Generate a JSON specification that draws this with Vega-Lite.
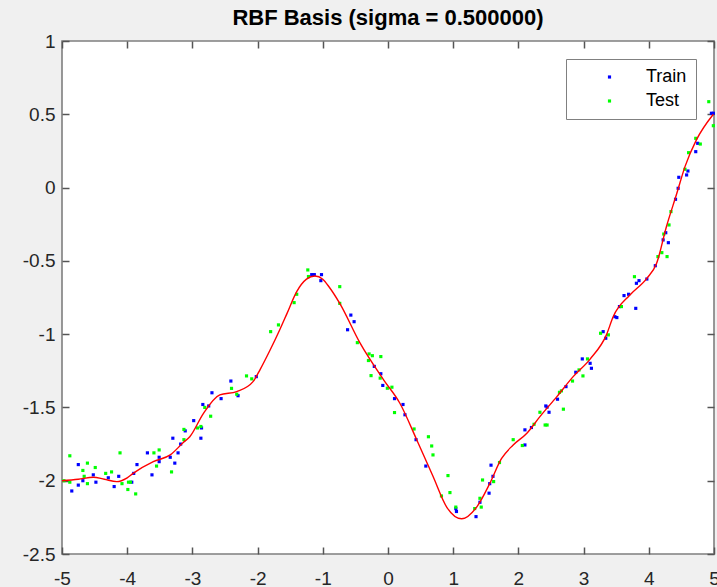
{
  "$schema": "https://vega.github.io/schema/vega-lite/v6.json",
  "width": 652,
  "height": 513,
  "autosize": {"type": "none"},
  "padding": {"left": 62, "top": 41, "right": 3, "bottom": 33},
  "background": "#f0f0f0",
  "config": {
    "view": {"fill": "white", "stroke": "#7f7f7f", "strokeWidth": 1.6},
    "font": "Liberation Sans",
    "axis": {
      "grid": false,
      "domain": false,
      "labelFont": "Liberation Sans",
      "labelFontSize": 19,
      "labelColor": "#262626",
      "labelFlush": false,
      "labelOverlap": false,
      "zindex": 2,
      "title": null
    }
  },
  "title": {
    "text": "RBF Basis (sigma = 0.500000)",
    "font": "Liberation Sans",
    "fontSize": 22,
    "fontWeight": "bold",
    "color": "#000000",
    "anchor": "middle",
    "offset": 2
  },
  "datasets": {
    "pts": [
      {"x": -4.85, "y": -2.07, "set": "Train"},
      {"x": -4.75, "y": -1.89, "set": "Train"},
      {"x": -4.75, "y": -2.03, "set": "Train"},
      {"x": -4.68, "y": -2.0, "set": "Train"},
      {"x": -4.52, "y": -1.96, "set": "Train"},
      {"x": -4.48, "y": -2.01, "set": "Train"},
      {"x": -4.29, "y": -1.98, "set": "Train"},
      {"x": -4.2, "y": -2.04, "set": "Train"},
      {"x": -4.13, "y": -1.97, "set": "Train"},
      {"x": -3.93, "y": -2.01, "set": "Train"},
      {"x": -3.9, "y": -1.95, "set": "Train"},
      {"x": -3.85, "y": -1.89, "set": "Train"},
      {"x": -3.69, "y": -1.81, "set": "Train"},
      {"x": -3.62, "y": -1.96, "set": "Train"},
      {"x": -3.51, "y": -1.84, "set": "Train"},
      {"x": -3.51, "y": -1.87, "set": "Train"},
      {"x": -3.34, "y": -1.84, "set": "Train"},
      {"x": -3.3, "y": -1.71, "set": "Train"},
      {"x": -3.27, "y": -1.88, "set": "Train"},
      {"x": -3.22, "y": -1.81, "set": "Train"},
      {"x": -3.18, "y": -1.75, "set": "Train"},
      {"x": -3.11, "y": -1.66, "set": "Train"},
      {"x": -2.98, "y": -1.59, "set": "Train"},
      {"x": -2.87, "y": -1.71, "set": "Train"},
      {"x": -2.86, "y": -1.64, "set": "Train"},
      {"x": -2.84, "y": -1.48, "set": "Train"},
      {"x": -2.75, "y": -1.49, "set": "Train"},
      {"x": -2.7, "y": -1.4, "set": "Train"},
      {"x": -2.56, "y": -1.44, "set": "Train"},
      {"x": -2.41, "y": -1.32, "set": "Train"},
      {"x": -2.3, "y": -1.42, "set": "Train"},
      {"x": -2.02, "y": -1.29, "set": "Train"},
      {"x": -1.17, "y": -0.594, "set": "Train"},
      {"x": -1.13, "y": -0.594, "set": "Train"},
      {"x": -1.02, "y": -0.594, "set": "Train"},
      {"x": -1.03, "y": -0.635, "set": "Train"},
      {"x": -0.57, "y": -0.87, "set": "Train"},
      {"x": -0.52, "y": -0.915, "set": "Train"},
      {"x": -0.62, "y": -0.97, "set": "Train"},
      {"x": -0.21, "y": -1.22, "set": "Train"},
      {"x": -0.11, "y": -1.27, "set": "Train"},
      {"x": -0.08, "y": -1.35, "set": "Train"},
      {"x": 0.1, "y": -1.44, "set": "Train"},
      {"x": 0.23, "y": -1.48, "set": "Train"},
      {"x": 0.26, "y": -1.55, "set": "Train"},
      {"x": 0.43, "y": -1.72, "set": "Train"},
      {"x": 0.58, "y": -1.9, "set": "Train"},
      {"x": 1.04, "y": -2.19, "set": "Train"},
      {"x": 1.05, "y": -2.21, "set": "Train"},
      {"x": 1.35, "y": -2.245, "set": "Train"},
      {"x": 1.41, "y": -2.147, "set": "Train"},
      {"x": 1.55, "y": -2.085, "set": "Train"},
      {"x": 1.56, "y": -2.02, "set": "Train"},
      {"x": 1.61, "y": -1.97, "set": "Train"},
      {"x": 1.58, "y": -1.894, "set": "Train"},
      {"x": 2.1, "y": -1.653, "set": "Train"},
      {"x": 2.1, "y": -1.756, "set": "Train"},
      {"x": 2.2, "y": -1.637, "set": "Train"},
      {"x": 2.42, "y": -1.49, "set": "Train"},
      {"x": 2.44, "y": -1.498, "set": "Train"},
      {"x": 2.47, "y": -1.533, "set": "Train"},
      {"x": 2.6, "y": -1.444, "set": "Train"},
      {"x": 2.73, "y": -1.358, "set": "Train"},
      {"x": 2.88, "y": -1.26, "set": "Train"},
      {"x": 2.98, "y": -1.169, "set": "Train"},
      {"x": 3.1, "y": -1.199, "set": "Train"},
      {"x": 3.12, "y": -1.233, "set": "Train"},
      {"x": 3.3, "y": -0.983, "set": "Train"},
      {"x": 3.34, "y": -1.028, "set": "Train"},
      {"x": 3.48, "y": -0.881, "set": "Train"},
      {"x": 3.51, "y": -0.887, "set": "Train"},
      {"x": 3.55, "y": -0.812, "set": "Train"},
      {"x": 3.62, "y": -0.737, "set": "Train"},
      {"x": 3.69, "y": -0.728, "set": "Train"},
      {"x": 3.8, "y": -0.824, "set": "Train"},
      {"x": 3.81, "y": -0.653, "set": "Train"},
      {"x": 3.85, "y": -0.635, "set": "Train"},
      {"x": 3.97, "y": -0.624, "set": "Train"},
      {"x": 4.1, "y": -0.533, "set": "Train"},
      {"x": 4.22, "y": -0.357, "set": "Train"},
      {"x": 4.26, "y": -0.308, "set": "Train"},
      {"x": 4.3, "y": -0.376, "set": "Train"},
      {"x": 4.41, "y": -0.08, "set": "Train"},
      {"x": 4.45, "y": -0.005, "set": "Train"},
      {"x": 4.46, "y": 0.07, "set": "Train"},
      {"x": 4.58, "y": 0.086, "set": "Train"},
      {"x": 4.6, "y": 0.113, "set": "Train"},
      {"x": 4.72, "y": 0.245, "set": "Train"},
      {"x": 4.75, "y": 0.302, "set": "Train"},
      {"x": 4.96, "y": 0.507, "set": "Train"},
      {"x": 4.99, "y": 0.507, "set": "Train"},
      {"x": -4.97, "y": -2.0, "set": "Test"},
      {"x": -4.88, "y": -1.83, "set": "Test"},
      {"x": -4.88, "y": -2.01, "set": "Test"},
      {"x": -4.68, "y": -1.93, "set": "Test"},
      {"x": -4.66, "y": -1.97, "set": "Test"},
      {"x": -4.61, "y": -1.88, "set": "Test"},
      {"x": -4.61, "y": -2.02, "set": "Test"},
      {"x": -4.49, "y": -1.91, "set": "Test"},
      {"x": -4.33, "y": -1.95, "set": "Test"},
      {"x": -4.24, "y": -1.94, "set": "Test"},
      {"x": -4.11, "y": -1.81, "set": "Test"},
      {"x": -4.08, "y": -2.02, "set": "Test"},
      {"x": -3.98, "y": -2.01, "set": "Test"},
      {"x": -3.99, "y": -2.06, "set": "Test"},
      {"x": -3.95, "y": -2.01, "set": "Test"},
      {"x": -3.87, "y": -2.09, "set": "Test"},
      {"x": -3.59, "y": -1.81, "set": "Test"},
      {"x": -3.55, "y": -1.9, "set": "Test"},
      {"x": -3.51, "y": -1.79, "set": "Test"},
      {"x": -3.32, "y": -1.94, "set": "Test"},
      {"x": -3.13, "y": -1.65, "set": "Test"},
      {"x": -3.13, "y": -1.72, "set": "Test"},
      {"x": -2.92, "y": -1.64, "set": "Test"},
      {"x": -2.87, "y": -1.63, "set": "Test"},
      {"x": -2.81, "y": -1.5, "set": "Test"},
      {"x": -2.72, "y": -1.56, "set": "Test"},
      {"x": -2.4, "y": -1.37, "set": "Test"},
      {"x": -2.32, "y": -1.41, "set": "Test"},
      {"x": -2.17, "y": -1.285, "set": "Test"},
      {"x": -2.09, "y": -1.305, "set": "Test"},
      {"x": -1.8, "y": -0.983, "set": "Test"},
      {"x": -1.68, "y": -0.937, "set": "Test"},
      {"x": -1.44, "y": -0.785, "set": "Test"},
      {"x": -1.4, "y": -0.728, "set": "Test"},
      {"x": -1.23, "y": -0.562, "set": "Test"},
      {"x": -1.22, "y": -0.607, "set": "Test"},
      {"x": -0.74, "y": -0.676, "set": "Test"},
      {"x": -0.74, "y": -0.79, "set": "Test"},
      {"x": -0.47, "y": -1.058, "set": "Test"},
      {"x": -0.3, "y": -1.18, "set": "Test"},
      {"x": -0.29, "y": -1.135, "set": "Test"},
      {"x": -0.24, "y": -1.147, "set": "Test"},
      {"x": -0.11, "y": -1.153, "set": "Test"},
      {"x": -0.26, "y": -1.283, "set": "Test"},
      {"x": -0.12, "y": -1.3, "set": "Test"},
      {"x": -0.01, "y": -1.369, "set": "Test"},
      {"x": 0.06, "y": -1.362, "set": "Test"},
      {"x": 0.1, "y": -1.535, "set": "Test"},
      {"x": 0.4, "y": -1.647, "set": "Test"},
      {"x": 0.62, "y": -1.7, "set": "Test"},
      {"x": 0.67, "y": -1.763, "set": "Test"},
      {"x": 0.69, "y": -1.824, "set": "Test"},
      {"x": 0.82, "y": -2.104, "set": "Test"},
      {"x": 0.92, "y": -1.965, "set": "Test"},
      {"x": 0.95, "y": -2.081, "set": "Test"},
      {"x": 1.04, "y": -2.18, "set": "Test"},
      {"x": 1.33, "y": -2.19, "set": "Test"},
      {"x": 1.41, "y": -2.12, "set": "Test"},
      {"x": 1.43, "y": -2.18, "set": "Test"},
      {"x": 1.45, "y": -1.995, "set": "Test"},
      {"x": 1.62, "y": -2.006, "set": "Test"},
      {"x": 1.71, "y": -1.876, "set": "Test"},
      {"x": 1.92, "y": -1.72, "set": "Test"},
      {"x": 2.06, "y": -1.76, "set": "Test"},
      {"x": 2.24, "y": -1.615, "set": "Test"},
      {"x": 2.33, "y": -1.533, "set": "Test"},
      {"x": 2.41, "y": -1.62, "set": "Test"},
      {"x": 2.44, "y": -1.62, "set": "Test"},
      {"x": 2.63, "y": -1.397, "set": "Test"},
      {"x": 2.66, "y": -1.387, "set": "Test"},
      {"x": 2.69, "y": -1.512, "set": "Test"},
      {"x": 2.83, "y": -1.32, "set": "Test"},
      {"x": 2.93, "y": -1.244, "set": "Test"},
      {"x": 2.99, "y": -1.285, "set": "Test"},
      {"x": 3.06, "y": -1.169, "set": "Test"},
      {"x": 3.26, "y": -0.994, "set": "Test"},
      {"x": 3.38, "y": -1.005, "set": "Test"},
      {"x": 3.58, "y": -0.812, "set": "Test"},
      {"x": 3.78, "y": -0.608, "set": "Test"},
      {"x": 4.14, "y": -0.471, "set": "Test"},
      {"x": 4.2, "y": -0.444, "set": "Test"},
      {"x": 4.28, "y": -0.471, "set": "Test"},
      {"x": 4.23, "y": -0.317, "set": "Test"},
      {"x": 4.31, "y": -0.255, "set": "Test"},
      {"x": 4.34, "y": -0.164, "set": "Test"},
      {"x": 4.555, "y": 0.125, "set": "Test"},
      {"x": 4.61, "y": 0.238, "set": "Test"},
      {"x": 4.72, "y": 0.336, "set": "Test"},
      {"x": 4.79, "y": 0.297, "set": "Test"},
      {"x": 4.92, "y": 0.586, "set": "Test"},
      {"x": 4.99, "y": 0.422, "set": "Test"}
    ],
    "fit": [
      {"x": -5.0, "y": -2.0},
      {"x": -4.75, "y": -1.99},
      {"x": -4.52, "y": -1.976},
      {"x": -4.35, "y": -1.99},
      {"x": -4.16, "y": -2.006},
      {"x": -4.0, "y": -1.98},
      {"x": -3.91, "y": -1.95},
      {"x": -3.6, "y": -1.87},
      {"x": -3.34, "y": -1.824},
      {"x": -3.14, "y": -1.74},
      {"x": -3.04, "y": -1.7},
      {"x": -2.83, "y": -1.54},
      {"x": -2.58, "y": -1.415},
      {"x": -2.32, "y": -1.392},
      {"x": -2.07, "y": -1.324},
      {"x": -1.96, "y": -1.24},
      {"x": -1.81, "y": -1.11},
      {"x": -1.66, "y": -0.97},
      {"x": -1.55, "y": -0.86},
      {"x": -1.4, "y": -0.71},
      {"x": -1.25, "y": -0.625},
      {"x": -1.12, "y": -0.603},
      {"x": -1.0, "y": -0.625},
      {"x": -0.9, "y": -0.68},
      {"x": -0.74, "y": -0.79},
      {"x": -0.43, "y": -1.06},
      {"x": -0.07, "y": -1.31},
      {"x": 0.18, "y": -1.47},
      {"x": 0.44, "y": -1.72},
      {"x": 0.69, "y": -1.97},
      {"x": 0.9, "y": -2.18},
      {"x": 1.13, "y": -2.26},
      {"x": 1.36, "y": -2.18},
      {"x": 1.56, "y": -2.02},
      {"x": 1.74, "y": -1.85},
      {"x": 1.92, "y": -1.756},
      {"x": 2.13, "y": -1.676},
      {"x": 2.33, "y": -1.563},
      {"x": 2.59, "y": -1.426},
      {"x": 2.84, "y": -1.29},
      {"x": 3.1, "y": -1.17},
      {"x": 3.35, "y": -1.005},
      {"x": 3.455, "y": -0.88},
      {"x": 3.71, "y": -0.733},
      {"x": 3.97, "y": -0.619},
      {"x": 4.12, "y": -0.517},
      {"x": 4.27, "y": -0.267},
      {"x": 4.43, "y": -0.039},
      {"x": 4.555, "y": 0.143},
      {"x": 4.73, "y": 0.325},
      {"x": 4.99, "y": 0.5}
    ]
  },
  "layer": [
    {
      "data": {"name": "pts"},
      "mark": {"type": "square", "size": 10, "opacity": 1, "filled": true},
      "encoding": {
        "x": {
          "field": "x", "type": "quantitative",
          "scale": {"domain": [-5, 5], "nice": false, "zero": false},
          "axis": {"orient": "bottom", "values": [-5, -4, -3, -2, -1, 0, 1, 2, 3, 4, 5], "labelExpr": "'' + datum.value", "labelPadding": 15, "ticks": true, "tickSize": 7, "tickColor": "#555555", "tickWidth": 1.5, "offset": -7}
        },
        "y": {
          "field": "y", "type": "quantitative",
          "scale": {"domain": [-2.5, 1], "nice": false, "zero": false},
          "axis": {"orient": "left", "values": [-2.5, -2, -1.5, -1, -0.5, 0, 0.5, 1], "labelExpr": "'' + datum.value", "labelPadding": 7, "ticks": true, "tickSize": 7, "tickColor": "#555555", "tickWidth": 1.5, "offset": -7}
        },
        "color": {
          "field": "set", "type": "nominal",
          "scale": {"domain": ["Train", "Test"], "range": ["#0000ff", "#00ff00"]},
          "legend": {
            "title": null,
            "orient": "top-right",
            "offset": 18,
            "padding": 9,
            "strokeColor": "#808080",
            "fillColor": "#ffffff",
            "symbolType": "square",
            "symbolSize": 10,
            "symbolOffset": 25.5,
            "labelOffset": 27.5,
            "labelFont": "Liberation Sans",
            "labelFontSize": 18,
            "labelColor": "#000000",
            "rowPadding": 6,
            "encode": {"legend": {"update": {"strokeWidth": {"value": 1.8}}}}
          }
        }
      }
    },
    {
      "data": {"name": "fit"},
      "mark": {"type": "line", "color": "#ff0000", "strokeWidth": 1.4, "interpolate": "monotone"},
      "encoding": {
        "x": {
          "field": "x", "type": "quantitative",
          "axis": {"orient": "top", "values": [-5, -4, -3, -2, -1, 0, 1, 2, 3, 4, 5], "labels": false, "ticks": true, "tickSize": 7, "tickColor": "#555555", "tickWidth": 1.5, "offset": -7}
        },
        "y": {
          "field": "y", "type": "quantitative",
          "axis": {"orient": "right", "values": [-2.5, -2, -1.5, -1, -0.5, 0, 0.5, 1], "labels": false, "ticks": true, "tickSize": 7, "tickColor": "#555555", "tickWidth": 1.5, "offset": -7}
        }
      }
    }
  ],
  "resolve": {"axis": {"x": "independent", "y": "independent"}}
}
